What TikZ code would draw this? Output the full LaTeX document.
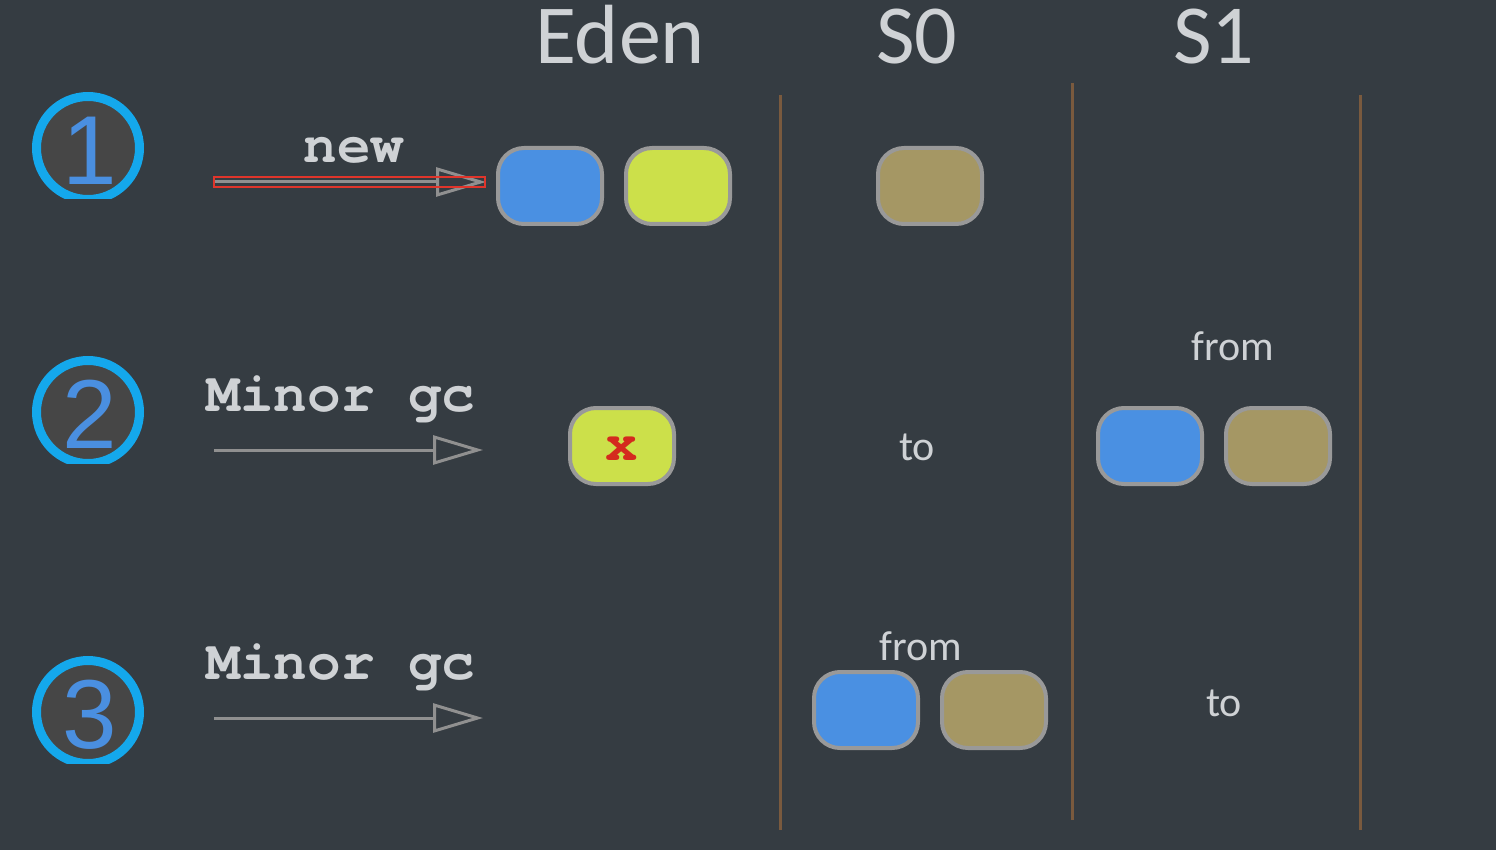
\documentclass[tikz,border=0pt]{standalone}
\usepackage{fontspec}
\setmainfont{Carlito}
\newfontfamily\monobold{texgyrecursor}[Extension=.otf, UprightFont=*-regular, BoldFont=*-bold]
\newfontfamily\digitfont{Liberation Sans}
\usetikzlibrary{arrows.meta}
\definecolor{bg}{HTML}{353C42}
\definecolor{sep}{HTML}{7A5A3E}
\definecolor{txt}{HTML}{CFD2D5}
\definecolor{ring}{HTML}{14A8EC}
\definecolor{disc}{HTML}{464646}
\definecolor{digit}{HTML}{4A8FE0}
\definecolor{objblue}{HTML}{4A90E2}
\definecolor{objyellow}{HTML}{CCE04A}
\definecolor{objtan}{HTML}{A59764}
\definecolor{objedge}{HTML}{999999}
\definecolor{arrowgray}{HTML}{909090}
\definecolor{xred}{HTML}{D42A1E}
\definecolor{selred}{HTML}{E0352B}
\tikzset{
  obj/.style={draw=objedge, line width=4pt, rounded corners=26pt, minimum width=104pt, minimum height=76pt, inner sep=0pt},
  title/.style={text=txt, font=\fontsize{84}{90}\selectfont, anchor=base},
  label/.style={text=txt, font=\fontsize{42}{48}\selectfont, anchor=base},
  cmd/.style={text=txt, font=\monobold\bfseries\fontsize{56}{60}\selectfont, anchor=base},
  flow/.style={draw=arrowgray, line width=3pt, -{Triangle[open, length=50pt, width=29pt, line width=3pt]}},
  divider/.style={draw=sep, line width=3pt},
  stepnum/.style={circle, fill=disc, draw=ring, line width=9pt, minimum size=103pt, inner sep=0pt},
  digitlabel/.style={text=digit, font=\digitfont\fontsize{98}{100}\selectfont, anchor=base}
}
\begin{document}
\begin{tikzpicture}[x=1pt, y=-1pt]
\fill[bg] (0,0) rectangle (1496,850);
\useasboundingbox (0,0) rectangle (1496,850);

% titles
\node[title] (eden) at (620,64) {Eden};
\node[title] (s0) at (917,64) {S0};
\node[title] (s1) at (1214,64) {S1};

% dividers
\coordinate (d1t) at (780,95); \coordinate (d1b) at (780,830);
\coordinate (d2t) at (1072,83); \coordinate (d2b) at (1072,820);
\coordinate (d3t) at (1360,95); \coordinate (d3b) at (1360,830);
\draw[divider] (d1t) -- (d1b);
\draw[divider] (d2t) -- (d2b);
\draw[divider] (d3t) -- (d3b);

% step circles (clipped at bottom)
\begin{scope}
\clip (20,80) rectangle (160,199);
\node[stepnum] (c1) at (88,148) {};
\end{scope}
\node[digitlabel] (n1) at (90,185) {1};
\begin{scope}
\clip (20,340) rectangle (160,463);
\node[stepnum] (c2) at (88,412) {};
\end{scope}
\node[digitlabel] (n2) at (90,448) {2};
\begin{scope}
\clip (20,640) rectangle (160,763);
\node[stepnum] (c3) at (88,712) {};
\end{scope}
\node[digitlabel] (n3) at (90,748) {3};

% row 1
\node[cmd] (new) at (354,163) {new};
\coordinate (a1s) at (214,182); \coordinate (a1e) at (486,182);
\draw[flow] (a1s) -- (a1e);
\draw[selred, line width=1.6pt] (214,177) rectangle (485,187);
\node[obj, fill=objblue] (e1b) at (550,186) {};
\node[obj, fill=objyellow] (e1y) at (678,186) {};
\node[obj, fill=objtan] (s01t) at (930,186) {};

% row 2
\node[cmd] (mgc2) at (341,411) {Minor gc};
\coordinate (a2s) at (214,450); \coordinate (a2e) at (483,450);
\draw[flow] (a2s) -- (a2e);
\node[obj, fill=objyellow] (e2y) at (622,446) {};
\node[text=xred, font=\monobold\bfseries\fontsize{54}{58}\selectfont, anchor=base] (x2) at (622,460) {x};
\node[label] (to2) at (917,460) {to};
\node[label] (from2) at (1233,360) {from};
\node[obj, fill=objblue] (s12b) at (1150,446) {};
\node[obj, fill=objtan] (s12t) at (1278,446) {};

% row 3
\node[cmd] (mgc3) at (341,679) {Minor gc};
\coordinate (a3s) at (214,718); \coordinate (a3e) at (483,718);
\draw[flow] (a3s) -- (a3e);
\node[label] (from3) at (921,660) {from};
\node[obj, fill=objblue] (s03b) at (866,710) {};
\node[obj, fill=objtan] (s03t) at (994,710) {};
\node[label] (to3) at (1224,716) {to};
\end{tikzpicture}
\end{document}
